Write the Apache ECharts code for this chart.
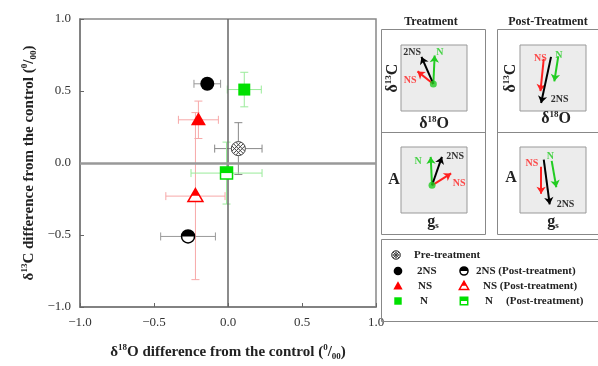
<!DOCTYPE html>
<html>
<head>
<meta charset="utf-8">
<script src="https://cdn.jsdelivr.net/npm/echarts@6.0.0/dist/echarts.min.js"></script>
<style>
  html, body { margin: 0; padding: 0; background: #fff; }
  #myChart { width: 598px; height: 366px; }
</style>
</head>
<body>
<div id="myChart"></div>
<script>
// ---- data ----
const groupNames = ['Pre-treatment', '2NS', 'NS', 'N', '2NS (Post-treatment)', 'NS (Post-treatment)', 'N (Post-treatment)'];
const d18O = [0.07, -0.14, -0.20, 0.11, -0.27, -0.22, -0.01];
const d13C = [0.10, 0.55, 0.30, 0.51, -0.51, -0.23, -0.07];
const d18OErr = [0.16, 0.09, 0.135, 0.115, 0.185, 0.20, 0.24];
const d13CErr = [0.18, 0, 0.13, 0.12, 0, 0.58, 0.215];
const axisTicks = [-1.0, -0.5, 0.0, 0.5, 1.0];

// vector diagrams: [name, x0, y0, x1, y1] on a 0-10 box
const arrowsTreatC = [['N', 4.9, 4.1, 5.1, 8.4], ['NS', 4.9, 4.1, 2.5, 6.0], ['2NS', 4.9, 4.1, 3.1, 8.2]];
const arrowsTreatA = [['N', 4.7, 4.2, 4.5, 8.5], ['NS', 4.7, 4.2, 7.6, 6.0], ['2NS', 4.7, 4.2, 6.2, 8.5]];
const arrowsPostC = [['NS', 3.6, 7.9, 3.1, 3.0], ['N', 5.8, 8.3, 5.2, 4.5], ['2NS', 4.7, 8.2, 3.2, 1.2]];
const arrowsPostA = [['NS', 3.2, 7.0, 3.2, 2.9], ['N', 4.8, 7.9, 5.5, 3.9], ['2NS', 3.6, 8.1, 4.5, 1.3]];
const labelsTreatC = [['2NS', 1.7, 8.8], ['N', 5.9, 8.9], ['NS', 1.4, 4.7]];
const labelsTreatA = [['N', 2.6, 7.8], ['2NS', 8.2, 8.5], ['NS', 8.8, 4.5]];
const labelsPostC = [['NS', 3.1, 8.0], ['N', 5.9, 8.4], ['2NS', 6.0, 1.8]];
const labelsPostA = [['NS', 1.8, 7.5], ['N', 4.6, 8.6], ['2NS', 6.9, 1.3]];
const originTreatC = [4.9, 4.1];
const originTreatA = [4.7, 4.2];

// ---- styles ----
const FONT = '"Liberation Serif", "DejaVu Serif", serif';
const kinds = ['pre', 'circle', 'tri', 'square', 'halfCircle', 'halfTri', 'halfSquare'];
const markColor = ['#444', '#000', '#ff0000', '#00e000', '#000', '#ff0000', '#00e000'];
const barColor = ['#888', '#999', '#f7a8a8', '#9aeb9a', '#999', '#f7a8a8', '#9aeb9a'];
const vecColor = { N: '#22cc22', NS: '#ff2020', '2NS': '#000' };

function markerEls(kind, cx, cy, s, color) {
  const els = [];
  if (kind === 'pre') {
    const r = 7 * s;
    els.push({ type: 'circle', shape: { cx, cy, r }, style: { fill: '#fff', stroke: color, lineWidth: 1 } });
    [-r * 0.55, 0, r * 0.55].forEach(function (c) {
      const h = Math.sqrt(2 * r * r - c * c);
      // lines y = x + c and y = -x + c (relative), clipped to circle
      const u1 = (-c - h) / 2, u2 = (-c + h) / 2;
      els.push({ type: 'line', shape: { x1: cx + u1, y1: cy + u1 + c, x2: cx + u2, y2: cy + u2 + c }, style: { stroke: color, lineWidth: 1 } });
      els.push({ type: 'line', shape: { x1: cx + u1, y1: cy - (u1 + c), x2: cx + u2, y2: cy - (u2 + c) }, style: { stroke: color, lineWidth: 1 } });
    });
  } else if (kind === 'circle') {
    els.push({ type: 'circle', shape: { cx, cy, r: 7 * s }, style: { fill: color } });
  } else if (kind === 'halfCircle') {
    const r = 6.5 * s;
    els.push({ type: 'circle', shape: { cx, cy, r }, style: { fill: '#fff', stroke: color, lineWidth: 1.5 } });
    els.push({ type: 'sector', shape: { cx, cy, r0: 0, r, startAngle: Math.PI, endAngle: 2 * Math.PI, clockwise: true }, style: { fill: color } });
  } else if (kind === 'tri' || kind === 'halfTri') {
    const top = cy - 7.5 * s, bot = cy + 5.5 * s, hw = 7.5 * s;
    if (kind === 'tri') {
      els.push({ type: 'polygon', shape: { points: [[cx, top], [cx + hw, bot], [cx - hw, bot]] }, style: { fill: color } });
    } else {
      els.push({ type: 'polygon', shape: { points: [[cx, top], [cx + hw, bot], [cx - hw, bot]] }, style: { fill: '#fff', stroke: color, lineWidth: 1.5 } });
      const t = 0.55, ym = top + (bot - top) * t;
      els.push({ type: 'polygon', shape: { points: [[cx, top], [cx + hw * t, ym], [cx - hw * t, ym]] }, style: { fill: color } });
    }
  } else if (kind === 'square' || kind === 'halfSquare') {
    const a = 12 * s;
    if (kind === 'square') {
      els.push({ type: 'rect', shape: { x: cx - a / 2, y: cy - a / 2, width: a, height: a }, style: { fill: color } });
    } else {
      els.push({ type: 'rect', shape: { x: cx - a / 2, y: cy - a / 2, width: a, height: a }, style: { fill: '#fff', stroke: color, lineWidth: 1.5 } });
      els.push({ type: 'rect', shape: { x: cx - a / 2, y: cy - a / 2, width: a, height: a / 2 }, style: { fill: color } });
    }
  }
  return els;
}

const rich = {
  b: { fontFamily: FONT, fontWeight: 'bold', fontSize: 15, color: '#222', lineHeight: 18 },
  sup: { fontFamily: FONT, fontWeight: 'bold', fontSize: 9, color: '#222', lineHeight: 9, verticalAlign: 'top' },
  sub: { fontFamily: FONT, fontWeight: 'bold', fontSize: 9, color: '#222', lineHeight: 9, verticalAlign: 'bottom' }
};
const smallRich = {
  b: { fontFamily: FONT, fontWeight: 'bold', fontSize: 16, color: '#222', lineHeight: 17 },
  sup: { fontFamily: FONT, fontWeight: 'bold', fontSize: 9, color: '#222', lineHeight: 9, verticalAlign: 'top' },
  sub: { fontFamily: FONT, fontWeight: 'bold', fontSize: 9, color: '#222', lineHeight: 9, verticalAlign: 'bottom' }
};

function fmt(v) {
  return axisTicks.indexOf(v) >= 0 ? v.toFixed(1).replace('-', '\u2212') : '';
}

const mainAxisCommon = {
  type: 'value', min: -1, max: 1, interval: 0.5, gridIndex: 0,
  axisLine: { show: true, onZero: false, lineStyle: { color: '#777', width: 1.5 } },
  axisTick: { show: true, inside: true, length: 4, lineStyle: { color: '#666' } },
  axisLabel: { formatter: fmt, fontFamily: FONT, fontSize: 13, color: '#333', margin: 9 },
  splitLine: { show: false },
  nameLocation: 'middle'
};

// small vector boxes
const boxes = [
  { left: 401, top: 45, arrows: arrowsTreatC, labels: labelsTreatC, origin: originTreatC },
  { left: 520, top: 45, arrows: arrowsPostC, labels: labelsPostC, origin: null },
  { left: 401, top: 147, arrows: arrowsTreatA, labels: labelsTreatA, origin: originTreatA },
  { left: 520, top: 147, arrows: arrowsPostA, labels: labelsPostA, origin: null }
];

const grids = [{ left: 80, top: 19, width: 296, height: 292, show: true, borderColor: '#888', borderWidth: 1.5, backgroundColor: '#fff' }];
const xAxes = [Object.assign({}, mainAxisCommon, {
  name: '{b|\u03b4}{sup|18}{b|O difference from the control (}{sup|0}{b|/}{sub|00}{b|)}',
  nameGap: 36, nameTextStyle: { rich }
})];
const yAxes = [Object.assign({}, mainAxisCommon, {
  name: '{b|\u03b4}{sup|13}{b|C difference from the control (}{sup|0}{b|/}{sub|00}{b|)}',
  nameGap: 42, nameTextStyle: { rich }
})];
const series = [];

// error bars
series.push({
  type: 'custom', xAxisIndex: 0, yAxisIndex: 0, z: 3,
  data: groupNames.map((n, i) => [d18O[i], d13C[i], d18OErr[i], d13CErr[i], i]),
  encode: { x: 0, y: 1 },
  renderItem: function (params, api) {
    const x = api.value(0), y = api.value(1), xe = api.value(2), ye = api.value(3), i = api.value(4);
    const st = { stroke: barColor[i], lineWidth: 1 };
    const ch = [];
    const cap = 4;
    if (xe > 0) {
      const a = api.coord([x - xe, y]), b = api.coord([x + xe, y]);
      ch.push({ type: 'line', shape: { x1: a[0], y1: a[1], x2: b[0], y2: b[1] }, style: st });
      ch.push({ type: 'line', shape: { x1: a[0], y1: a[1] - cap, x2: a[0], y2: a[1] + cap }, style: st });
      ch.push({ type: 'line', shape: { x1: b[0], y1: b[1] - cap, x2: b[0], y2: b[1] + cap }, style: st });
    }
    if (ye > 0) {
      const a = api.coord([x, y - ye]), b = api.coord([x, y + ye]);
      ch.push({ type: 'line', shape: { x1: a[0], y1: a[1], x2: b[0], y2: b[1] }, style: st });
      ch.push({ type: 'line', shape: { x1: a[0] - cap, y1: a[1], x2: a[0] + cap, y2: a[1] }, style: st });
      ch.push({ type: 'line', shape: { x1: b[0] - cap, y1: b[1], x2: b[0] + cap, y2: b[1] }, style: st });
    }
    return { type: 'group', children: ch };
  }
});

// markers
series.push({
  type: 'custom', xAxisIndex: 0, yAxisIndex: 0, z: 5,
  data: groupNames.map((n, i) => [d18O[i], d13C[i], i]),
  encode: { x: 0, y: 1 },
  renderItem: function (params, api) {
    const i = api.value(2);
    const p = api.coord([api.value(0), api.value(1)]);
    return { type: 'group', children: markerEls(kinds[i], p[0], p[1], 1, markColor[i]) };
  }
});

// zero lines
series.push({
  type: 'scatter', xAxisIndex: 0, yAxisIndex: 0, data: [], z: 2,
  markLine: {
    silent: true, symbol: 'none', label: { show: false },
    data: [
      { xAxis: 0, lineStyle: { color: '#666', width: 1.5, type: 'solid' } },
      { yAxis: 0, lineStyle: { color: '#999', width: 2.5, type: 'solid' } }
    ]
  }
});

boxes.forEach(function (bx, k) {
  const gi = k + 1;
  grids.push({ left: bx.left, top: bx.top, width: 66, height: 66, show: true, backgroundColor: '#ececec', borderColor: '#999', borderWidth: 1 });
  xAxes.push({ type: 'value', gridIndex: gi, min: 0, max: 10, show: false });
  yAxes.push({ type: 'value', gridIndex: gi, min: 0, max: 10, show: false });
  series.push({
    type: 'lines', coordinateSystem: 'cartesian2d', xAxisIndex: gi, yAxisIndex: gi, z: 4,
    symbol: ['none', 'arrow'], symbolSize: 7,
    data: bx.arrows.map(a => ({ name: a[0], coords: [[a[1], a[2]], [a[3], a[4]]], lineStyle: { color: vecColor[a[0]] } })),
    lineStyle: { width: 2, opacity: 1 }
  });
  if (bx.origin) {
    series.push({ type: 'scatter', xAxisIndex: gi, yAxisIndex: gi, z: 5, symbolSize: 7, itemStyle: { color: '#22cc22' }, data: [bx.origin] });
  }
  series.push({
    type: 'scatter', xAxisIndex: gi, yAxisIndex: gi, z: 6, symbolSize: 0, silent: true,
    data: bx.labels.map(l => ({ name: l[0], value: [l[1], l[2]], label: { color: vecColor[l[0]] } })),
    label: { show: true, position: 'inside', formatter: '{b}', fontFamily: FONT, fontWeight: 'bold', fontSize: 10 }
  });
});

// frames, panel titles and legend
const graphic = [];
const frameStyle = { fill: 'none', stroke: '#888', lineWidth: 1 };
graphic.push({ type: 'rect', shape: { x: 381.5, y: 29.5, width: 104, height: 205 }, style: frameStyle, z: 1 });
graphic.push({ type: 'line', shape: { x1: 381.5, y1: 132.5, x2: 485.5, y2: 132.5 }, style: frameStyle, z: 1 });
graphic.push({ type: 'rect', shape: { x: 497.5, y: 29.5, width: 110, height: 205 }, style: frameStyle, z: 1 });
graphic.push({ type: 'line', shape: { x1: 497.5, y1: 132.5, x2: 598, y2: 132.5 }, style: frameStyle, z: 1 });
graphic.push({ type: 'rect', shape: { x: 381.5, y: 239.5, width: 226, height: 82 }, style: frameStyle, z: 1 });

function txt(x, y, text, opt) {
  return Object.assign({
    type: 'text', x, y, z: 10,
    style: Object.assign({ text, fontFamily: FONT, fontWeight: 'bold', fontSize: 12, fill: '#222', align: 'center', verticalAlign: 'middle' }, opt || {})
  });
}
graphic.push(txt(431, 22, 'Treatment'));
graphic.push(txt(548, 22, 'Post-Treatment'));
const d13Lbl = '{b|\u03b4}{sup|13}{b|C}';
const d18Lbl = '{b|\u03b4}{sup|18}{b|O}';
const gsLbl = '{b|g}{sub|s}';
[[393, 78], [511, 78]].forEach(function (p) {
  const t = txt(p[0], p[1], d13Lbl, { rich: smallRich });
  t.rotation = Math.PI / 2;
  graphic.push(t);
});
graphic.push(txt(434, 124, d18Lbl, { rich: smallRich }));
graphic.push(txt(556, 119, d18Lbl, { rich: smallRich }));
graphic.push(txt(394, 180, 'A', { fontSize: 16 }));
graphic.push(txt(511, 178, 'A', { fontSize: 16 }));
graphic.push(txt(433, 222, gsLbl, { rich: smallRich }));
graphic.push(txt(553, 222, gsLbl, { rich: smallRich }));

// legend rows
const legendRows = [
  [[0, 396, 255, 'Pre-treatment', 414]],
  [[1, 398, 271, '2NS', 417], [4, 464, 271, '2NS (Post-treatment)', 476]],
  [[2, 398, 286, 'NS', 418], [5, 464, 286, 'NS (Post-treatment)', 483]],
  [[3, 398, 301, 'N', 420], [6, 464, 301, 'N', 485]]
];
legendRows.forEach(function (row) {
  row.forEach(function (it) {
    markerEls(kinds[it[0]], it[1], it[2], 0.62, markColor[it[0]]).forEach(function (e) { e.z = 10; graphic.push(e); });
    graphic.push(txt(it[4], it[2], it[3], { align: 'left', fontSize: 11 }));
  });
});
graphic.push(txt(506, 301, '(Post-treatment)', { align: 'left', fontSize: 11 }));

const myChart = echarts.init(document.getElementById('myChart'), null, { renderer: 'canvas' });
myChart.setOption({
  animation: false,
  backgroundColor: '#fff',
  grid: grids,
  xAxis: xAxes,
  yAxis: yAxes,
  series: series,
  graphic: graphic
});
</script>
</body>
</html>
